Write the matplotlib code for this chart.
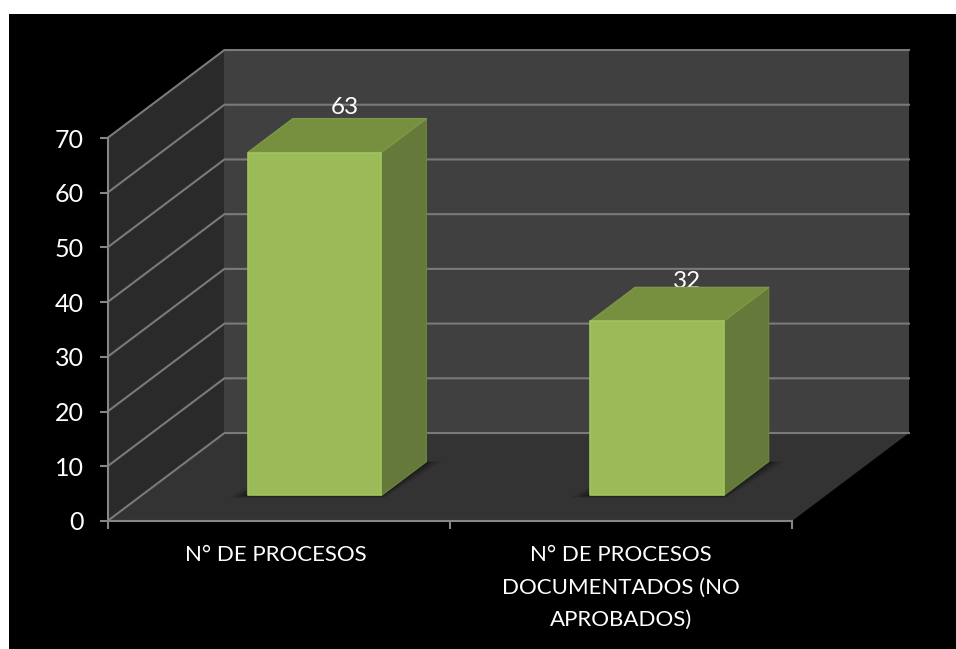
import matplotlib
matplotlib.use("Agg")
import matplotlib.pyplot as plt
from matplotlib.patches import Polygon, Rectangle
from matplotlib.transforms import ScaledTranslation

categories = ["N° DE PROCESOS", "N° DE PROCESOS\nDOCUMENTADOS (NO\nAPROBADOS)"]
values = [63, 32]
y_ticks = [0, 10, 20, 30, 40, 50, 60, 70]

# 3D look: shift per unit of depth, in data units
DEPTH_X, DEPTH_Y = 0.3416, 16.08
BAR_WIDTH = 0.39
BAR_SHIFT = 0.006
BAR_F0, BAR_F1 = 0.29, 0.675
BAR_PERSPECTIVE = 0.995
LABEL_F = 0.55
YMAX = 70
XMAX = len(categories)

plt.rcParams["font.family"] = ["Lato", "DejaVu Sans"]
W, H = 956, 649
fig = plt.figure(figsize=(W / 100, H / 100), dpi=100, facecolor="white")
fig.add_artist(Rectangle((9 / W, 0), 1, 1 - 14 / H, transform=fig.transFigure,
                         facecolor="black", edgecolor="none", zorder=-10))
ax = fig.add_axes([107.5 / W, (H - 521) / H, (792 - 107.5) / W, 383 / H])
ax.patch.set_alpha(0)
ax.set_xlim(0, XMAX)
ax.set_ylim(0, YMAX)


def P(x, v, f):
    return (x + f * DEPTH_X, v + f * DEPTH_Y)


def face(pts, color, z, alpha=1.0, edge="none", lw=0.0):
    ax.add_patch(Polygon(pts, closed=True, facecolor=color, edgecolor=edge, linewidth=lw,
                         alpha=alpha, zorder=z, clip_on=False, joinstyle="round"))


# walls and floor
face([P(0, 0, 0), P(0, YMAX, 0), P(0, YMAX, 1), P(0, 0, 1)], "#2a2a2a", 1)
face([P(0, 0, 1), P(0, YMAX, 1), P(XMAX, YMAX, 1), P(XMAX, 0, 1)], "#404040", 1)
face([P(0, 0, 0), P(0, 0, 1), P(XMAX, 0, 1), P(XMAX, 0, 0)], "#333333", 1)

# gridlines
GRID = "#7a7a7a"
for t in y_ticks:
    a, b, c = P(0, t, 0), P(0, t, 1), P(XMAX, t, 1)
    ax.plot([a[0], b[0], c[0]], [a[1], b[1], c[1]], color=GRID, lw=1.5, zorder=2,
            clip_on=False, solid_joinstyle="miter")

# bars
label_offsets = [22, 17]
for i, val in enumerate(values):
    v = val * BAR_PERSPECTIVE
    xc = i + 0.5 + BAR_SHIFT
    x0, x1 = xc - BAR_WIDTH / 2, xc + BAR_WIDTH / 2

    # soft shadow on the floor
    for grow, al in [(0.045, 0.10), (0.03, 0.16), (0.015, 0.22)]:
        face([P(x0 - grow, 0, BAR_F0), P(x0, 0, BAR_F1), P(x1 + grow, 0, BAR_F1),
              P(x1 + grow * 0.4, 0, BAR_F0 - grow * 0.6), P(x0 - grow, 0, BAR_F0 - grow * 0.6)],
             "#000000", 3, alpha=al)

    ax.annotate(str(val), xy=P(xc, v, LABEL_F), xytext=(0, label_offsets[i] * 0.72),
                textcoords="offset points", ha="center", va="center", color="white",
                fontsize=17.5, zorder=4, annotation_clip=False, xycoords="data")

    # right side
    face([P(x1, 0, BAR_F0), P(x1, 0, BAR_F1), P(x1, v, BAR_F1), P(x1, v, BAR_F0)],
         "#64793A", 5, edge="#6c833e", lw=1.0)
    # top
    face([P(x0, v, BAR_F0), P(x0, v, BAR_F1), P(x1, v, BAR_F1), P(x1, v, BAR_F0)],
         "#76903F", 6, edge="#7d9943", lw=1.0)
    # front
    face([P(x0, 0, BAR_F0), P(x0, v, BAR_F0), P(x1, v, BAR_F0), P(x1, 0, BAR_F0)],
         "#9BBB59", 7, edge="#a2c45d", lw=1.2)

# axes furniture
for s in ("top", "right"):
    ax.spines[s].set_visible(False)
for s in ("left", "bottom"):
    ax.spines[s].set_color("#868686")
    ax.spines[s].set_linewidth(1.5)
    ax.spines[s].set_zorder(8)

ax.set_yticks(y_ticks)
ax.set_xticks(range(XMAX + 1))
ax.set_xticklabels([])
ax.set_xticks([i + 0.5 for i in range(XMAX)], minor=True)
ax.set_xticklabels(categories, minor=True, color="white", fontsize=16, linespacing=1.78)
ax.tick_params(axis="x", which="major", length=6, width=1.5, color="#868686", direction="out")
ax.tick_params(axis="x", which="minor", length=0, pad=17.5)
ax.tick_params(axis="y", length=6, width=1.5, color="#868686", direction="out",
               labelcolor="white", labelsize=18, pad=11)

first = ax.get_xticklabels(minor=True)[0]
first.set_transform(first.get_transform() + ScaledTranslation(-3 / 100, 0, fig.dpi_scale_trans))

fig.savefig("out.png", dpi=100, facecolor="white")
